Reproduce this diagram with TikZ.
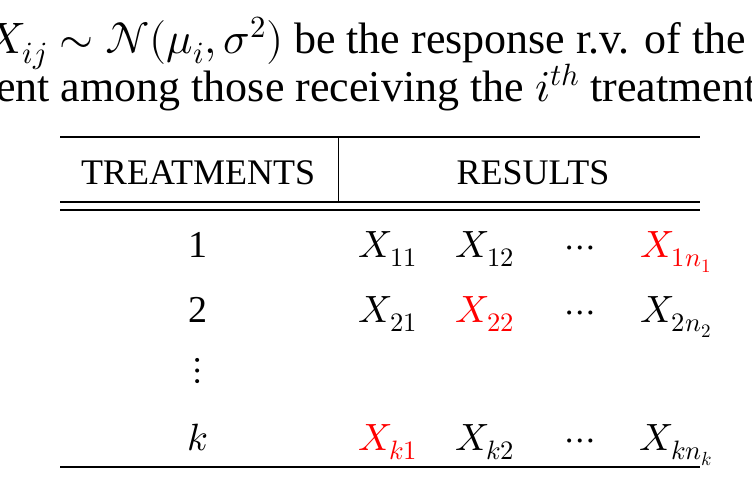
\documentclass[tikz,border=0pt]{standalone}
\usepackage{fontspec}
\setmainfont{Liberation Serif}
\usepackage{amsmath}
\usepackage{unicode-math}
\setmathfont{Latin Modern Math}
\begin{document}
\begin{tikzpicture}[x=1pt,y=-1pt,
  ttl/.style={inner sep=0pt,anchor=base west,font=\fontsize{44}{50}\selectfont},
  cell/.style={inner sep=0pt,anchor=base,font=\fontsize{38}{44}\selectfont},
  rule/.style={line width=1.1pt}]
\useasboundingbox (0,0) rectangle (752,483);
\clip (0,0) rectangle (752,483);
\node[ttl] (l1) at (-14,53) {$X_{ij}\sim\mathcal{N}(\mu_i,\sigma^2)$ be the response r.v. of the};
\node[ttl] (l2) at (-4,101) {ent among those receiving the $i^{th}$ treatment};
\draw[rule] (60,137) -- (700,137);
\draw[rule] (60,202) -- (700,202);
\draw[rule] (60,210) -- (700,210);
\draw[rule] (60,467) -- (700,467);
\draw[line width=0.8pt] (338,137) -- (338,202);
\node[cell,font=\fontsize{36}{40}\selectfont] (h1) at (198,184) {TREATMENTS};
\node[cell,font=\fontsize{36}{40}\selectfont] (h2) at (533,184) {RESULTS};
\node[cell] (r1) at (198,257) {1};
\node[cell] (r2) at (198,322) {2};
\node[cell] (r3) at (198,380) {$\vdots$};
\node[cell] (r4) at (198,450) {$k$};
\node[cell] (a1) at (388,257) {$X_{11}$};
\node[cell] (a2) at (485,257) {$X_{12}$};
\node[cell] (a3) at (580,257) {$\cdots$};
\node[cell,text=red] (a4) at (676,257) {$X_{1n_1}$};
\node[cell] (b1) at (388,322) {$X_{21}$};
\node[cell,text=red] (b2) at (485,322) {$X_{22}$};
\node[cell] (b3) at (580,322) {$\cdots$};
\node[cell] (b4) at (676,322) {$X_{2n_2}$};
\node[cell,text=red] (c1) at (388,450) {$X_{k1}$};
\node[cell] (c2) at (485,450) {$X_{k2}$};
\node[cell] (c3) at (580,450) {$\cdots$};
\node[cell] (c4) at (676,450) {$X_{kn_k}$};
\end{tikzpicture}
\end{document}
